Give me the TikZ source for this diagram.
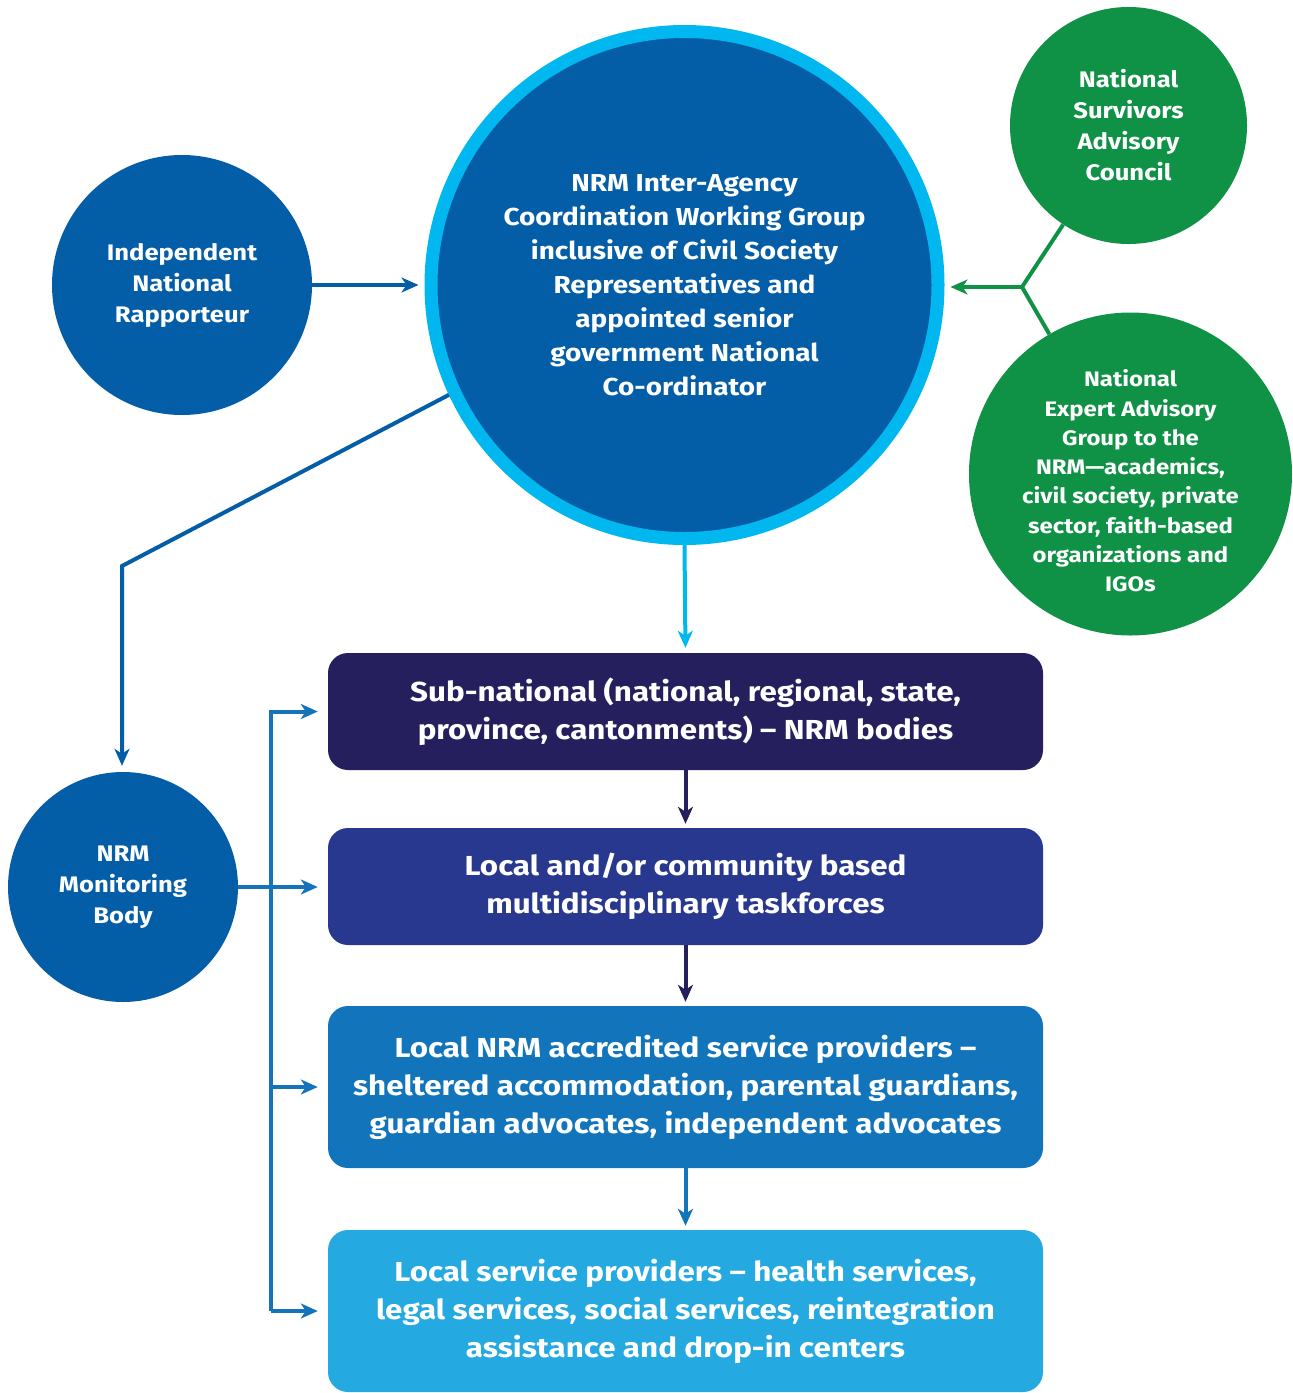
\documentclass[tikz,border=0pt]{standalone}
\usepackage{fontspec}
\setmainfont{Fira Sans}[FakeStretch=1.14]
\usetikzlibrary{arrows.meta}
\definecolor{dblue}{HTML}{045DA7}
\definecolor{ringblue}{HTML}{00B8EF}
\definecolor{ngreen}{HTML}{0F9246}
\definecolor{boxa}{HTML}{251F5E}
\definecolor{boxb}{HTML}{28388F}
\definecolor{boxc}{HTML}{1275BC}
\definecolor{boxd}{HTML}{24A9E1}
\definecolor{mblue}{HTML}{1573BA}
\tikzset{
  circnode/.style={circle, inner sep=0pt, text=white, align=center},
  ctext/.style={text=white, align=center, inner sep=0pt},
  flowbox/.style={rectangle, rounded corners=20pt, minimum width=715pt, inner sep=0pt, text=white, align=center,
     font=\fontsize{27.5}{38}\selectfont\bfseries},
  conn/.style={line width=4pt, -{Stealth[length=17pt,width=15pt,inset=5pt]}},
}
\begin{document}
\begin{tikzpicture}[x=1pt,y=-1pt]
\useasboundingbox (0,0) rectangle (1293,1393);
% circles
\node[circnode, fill=dblue, draw=ringblue, line width=13pt, minimum size=507pt,
  font=\fontsize{24.5}{34}\selectfont\bfseries] (big) at (684.5,285)
  {NRM Inter-Agency\\Coordination Working Group\\inclusive of Civil Society\\Representatives and\\appointed senior\\government National\\Co-ordinator};
\node[circnode, fill=dblue, minimum size=260pt, font=\fontsize{22.5}{31}\selectfont\bfseries] (rap) at (182,285)
  {Independent\\National\\Rapporteur};
\node[circnode, fill=ngreen, minimum size=237pt, font=\fontsize{22.5}{31}\selectfont\bfseries] (surv) at (1128.5,125.5)
  {National\\Survivors\\Advisory\\Council};
\node[circnode, fill=ngreen, minimum size=323pt] (exp) at (1130.5,474) {};
\node[ctext, font=\fontsize{21}{29.3}\selectfont\bfseries] (expT) at (1130.5,481)
  {National\\Expert Advisory\\Group to the\\NRM—academics,\\civil society, private\\sector, faith-based\\organizations and\\IGOs};
\node[circnode, fill=dblue, minimum size=230pt, font=\fontsize{22.5}{31}\selectfont\bfseries] (mon) at (123,887)
  {NRM\\Monitoring\\Body};
% boxes
\node[flowbox, fill=boxa, minimum height=117pt] (b1) at (685.5,711.5)
  {Sub-national (national, regional, state,\\province, cantonments) – NRM bodies};
\node[flowbox, fill=boxb, minimum height=117pt] (b2) at (685.5,886.5)
  {Local and/or community based\\multidisciplinary taskforces};
\node[flowbox, fill=boxc, minimum height=162pt] (b3) at (685.5,1087)
  {Local NRM accredited service providers –\\sheltered accommodation, parental guardians,\\guardian advocates, independent advocates};
\node[flowbox, fill=boxd, minimum height=162pt] (b4) at (685.5,1311)
  {Local service providers – health services,\\legal services, social services, reintegration\\assistance and drop-in centers};
% connectors
\draw[conn, draw=dblue, shorten >=6pt] (rap.east) -- (rap.east -| big.west);
\coordinate (jn) at (1022,287);
\draw[line width=4pt, ngreen] (surv) -- (jn) -- (exp);
\draw[conn, draw=ngreen, shorten >=6pt] (jn) -- (jn -| big.east);
\draw[conn, draw=ringblue, shorten >=5pt] (big.south) -- (b1.north);
\draw[conn, draw=boxa, shorten >=4pt] (b1.south) -- (b2.north);
\draw[conn, draw=boxa, shorten >=4pt] (b2.south) -- (b3.north);
\draw[conn, draw=boxc, shorten >=4pt] (b3.south) -- (b4.north);
\coordinate (bend) at (122,566);
\draw[conn, draw=dblue, line join=miter, shorten >=6pt] (big.205) -- (bend) -- (bend |- mon.north);
\coordinate (vt) at (271,711.5);
\coordinate (vb) at (271,1311);
\draw[conn, draw=mblue, shorten >=10pt] (mon.east) -- (mon.east -| b2.west);
\draw[conn, draw=mblue, line join=miter, shorten >=10pt] (vb) -- (vt) -- (b1.west);
\draw[conn, draw=mblue, shorten >=10pt] (vb) -- (b4.west);
\draw[conn, draw=mblue, shorten >=10pt] (vb |- b3.west) -- (b3.west);
\end{tikzpicture}
\end{document}
